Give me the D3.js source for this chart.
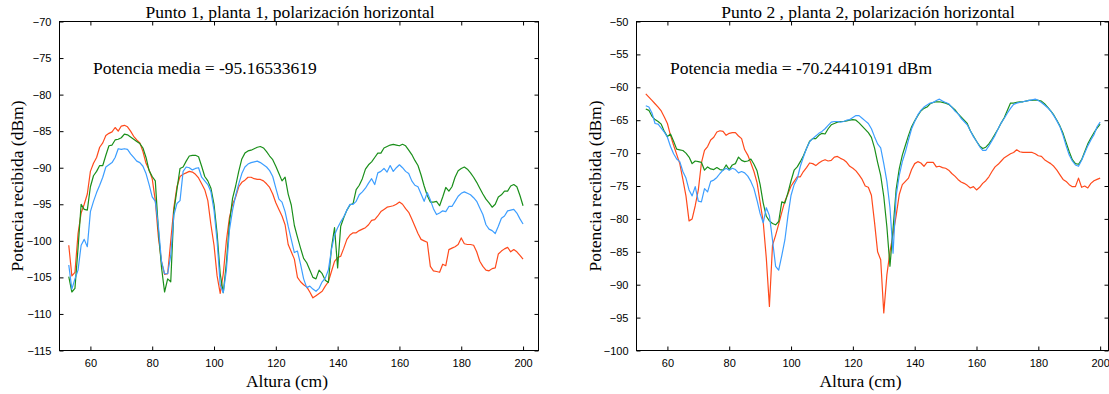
<!DOCTYPE html>
<html>
<head>
<meta charset="utf-8">
<script src="https://cdn.jsdelivr.net/npm/d3@7"></script>
<style>
  body { margin: 0; background: #fff; }
  svg { display: block; }
  .tick text { font-family: "Liberation Sans", Arial, sans-serif; font-size: 11px; fill: #000; }
  .serif { font-family: "Liberation Serif", "Times New Roman", serif; font-size: 17.5px; fill: #000; }
</style>
</head>
<body>
<svg id="chart" width="1109" height="394"></svg>
<script>
// alturas de medida (cm)
var alturas = d3.range(53, 201);

// Punto 1, planta 1
var rojo1 = [-100.6,-104.8,-104.3,-99,-96.2,-95,-93.6,-90.5,-89.4,-88.6,-87.2,-86.6,-85.6,-85.3,-85.1,-84.5,-85,-84.3,-84.2,-84.4,
  -85,-85.7,-86.2,-86.6,-87.8,-89.4,-90.3,-91.5,-94.5,-99.5,-102.8,-104.6,-104.5,-100,-95.5,-92.6,-91.2,-90.9,-90.7,-90.5,
  -90.6,-90.9,-91.4,-92.2,-93,-94.5,-97.8,-100.6,-104.8,-107.2,-104.5,-100,-96.8,-95,-94,-92.6,-92,-91.7,-91.3,-91.3,
  -91.5,-91.6,-91.6,-91.8,-92.2,-92.7,-93.6,-94.8,-95.7,-96.6,-97.8,-100.5,-101.5,-102.5,-105,-105.6,-106,-106.3,-107,-107.8,
  -107.5,-107.2,-106.9,-106.2,-105.6,-104.2,-102.8,-102.3,-102.1,-101,-99.8,-99.2,-98.9,-98.9,-98.6,-98.4,-98.2,-97.8,-97.2,-97.1,
  -96.6,-96,-95.7,-95.4,-95.3,-95.2,-95,-94.7,-95,-95.6,-96.1,-97,-98,-99,-99.8,-100,-100.2,-103.5,-104.1,-104.2,
  -104.3,-103.2,-103.4,-101.2,-101,-100.8,-100.5,-99.6,-100.4,-100.5,-100.5,-100.6,-101.5,-102.8,-103.5,-104,-104.1,-103.8,-103.7,-101.8,
  -101.4,-101.1,-100.9,-101.5,-101.2,-101.5,-102,-102.5];
var verde1 = [-104.9,-107,-106.5,-101,-95,-95.7,-95.8,-92.6,-91.1,-90.5,-89.7,-89.7,-88.3,-87,-86.9,-86.2,-86.1,-85.9,-85.4,-85.5,
  -85.8,-86.1,-86.4,-86.7,-87.3,-88.6,-90.4,-91.2,-91.8,-98.5,-103.6,-107,-105.2,-105.6,-96,-93,-90.1,-89.9,-89.1,-88.4,
  -88.3,-88.3,-88.5,-89.8,-91.2,-91.8,-92.8,-95,-99,-104.5,-107.1,-103,-97.5,-94.2,-92.5,-90.5,-88.8,-88,-87.7,-87.6,
  -87.4,-87.2,-87.1,-87.3,-87.8,-88.4,-88.9,-89.8,-90.8,-91.8,-91.3,-93.6,-95.1,-97.9,-99.5,-101,-102.4,-103,-104,-105,
  -105.2,-104,-104.5,-105.4,-105.7,-101,-98.2,-103.7,-98,-96.8,-95.8,-95.1,-94.9,-93,-92.4,-91.5,-90.2,-89.6,-89.2,-88.6,
  -88,-88,-87.3,-87.1,-86.9,-86.8,-86.9,-87,-86.8,-87,-87.6,-88.2,-89,-89.7,-91,-92.5,-93.8,-94.7,-94.7,-94.6,
  -95.2,-94,-92.7,-93.2,-92.6,-91.3,-90.4,-90.1,-89.9,-90.2,-90.7,-91.3,-92,-92.8,-93.6,-94.3,-94.8,-95.4,-95,-94,
  -93.7,-93.2,-93.2,-92.5,-92.3,-92.6,-93.8,-95.2];
var azul1 = [-103.3,-106.6,-105.2,-104,-100.6,-99.8,-100.8,-96,-94.6,-93.4,-92.4,-91.3,-89.9,-89.6,-89.3,-88.6,-87.4,-87.5,-87.4,-87.5,
  -88.1,-88.6,-89.1,-89.3,-89.8,-90.8,-92.3,-94,-94.6,-98,-102.8,-104.5,-104.5,-102,-96.5,-94.9,-94.5,-90.5,-89.9,-90,
  -90.3,-90.1,-90,-91.3,-91.8,-92.3,-93.3,-95.8,-100,-106,-107.1,-104,-98.5,-95.8,-93.8,-92.2,-90.8,-89.9,-89.5,-89.3,
  -89.2,-89.1,-89.3,-89.6,-89.9,-90.4,-91.2,-92.8,-94.3,-94.7,-96,-98,-99.8,-101.6,-101.4,-103.2,-105.2,-106.4,-106.2,-106.6,
  -106.9,-106.5,-105.6,-105.1,-104,-101.2,-99.2,-98.2,-97.4,-96.7,-95.8,-95,-95,-94.6,-93.7,-93.3,-92.8,-92.1,-91.5,-92.3,
  -90.7,-90.5,-90.1,-90.6,-89.7,-90.5,-90,-89.6,-90,-90.5,-90.8,-91.8,-92.4,-92.6,-93.6,-94.6,-93.4,-94.4,-95.6,-96.4,
  -96.2,-95.9,-96,-95.3,-95.3,-94.6,-93.9,-93.5,-93.3,-93.5,-93.7,-94.1,-94.6,-95.5,-96.4,-97.8,-98.4,-98.6,-99,-98,
  -96.9,-96.6,-95.9,-95.8,-95.7,-96.2,-97,-97.7];

// Punto 2, planta 2
var rojo2 = [-61,-61.5,-62,-62.5,-63,-63.6,-64.5,-65.5,-67.3,-68.8,-70.2,-71.6,-74,-76.5,-80.3,-80,-78,-75.6,-71.5,-69.6,
  -69,-68,-67.6,-66.8,-66.6,-66.7,-67.3,-67,-66.9,-66.9,-67.4,-67.8,-69.5,-70.3,-71.5,-72.8,-74.5,-77.5,-80.5,-86,
  -93.3,-84,-82.5,-80.8,-79,-77.3,-76.2,-75,-74.3,-73.6,-73.6,-72.8,-72.2,-71.5,-71.6,-71.9,-71.5,-71.2,-71,-71.2,
  -71.1,-70.6,-70.5,-70.8,-71,-71.4,-72,-72.3,-72.7,-73.3,-74,-75,-75.2,-76.4,-80.5,-85,-86.2,-94.3,-88.5,-85,
  -82.3,-79.5,-76.3,-74.8,-74.3,-73.8,-72.5,-71.6,-71.3,-71.5,-72,-71.4,-71.4,-71.4,-72.1,-72,-72.2,-72.3,-72.6,-73.1,
  -73.5,-74,-74.4,-74.6,-74.9,-75.3,-75.1,-75.6,-75.2,-74.6,-74.2,-73.6,-72.8,-72.1,-71.7,-71.2,-70.7,-70.4,-70.1,-69.9,
  -69.5,-69.8,-69.9,-69.9,-69.9,-69.9,-70.1,-70.4,-70.5,-71,-71.3,-71.6,-72,-72.6,-73.3,-74,-74.3,-74.8,-75.1,-75.1,
  -73.8,-75.2,-75,-75.3,-74.6,-74.2,-74,-73.8];
var verde2 = [-63.3,-63.5,-64.4,-64.9,-65.2,-65.6,-66.7,-67.5,-67.1,-68.2,-69.4,-69.5,-69.6,-70,-70.6,-71.6,-71.2,-71.3,-71.4,-72.6,
  -72.1,-72.4,-72.5,-72.2,-72.5,-72.6,-71.8,-72.5,-71.8,-71.6,-70.6,-71.1,-71.3,-71.2,-70.9,-71.7,-72.7,-74.8,-77.6,-79.6,
  -80.3,-80.7,-80.9,-80.4,-77.4,-77.6,-76,-74.2,-72.6,-72.1,-71.3,-70.4,-69.3,-68.2,-67.8,-67.8,-67.3,-67,-67.1,-66.3,
  -65.7,-65.5,-65.3,-65.2,-65.2,-65.1,-65,-64.9,-65,-65.4,-65.9,-66.4,-66.9,-67.6,-69.2,-71.4,-73.4,-76.6,-81.2,-87.2,
  -81.5,-75.5,-72.4,-70.3,-68.8,-67.3,-66,-65.1,-64.3,-63.6,-63.2,-63,-62.5,-62.3,-62.2,-62.2,-62.3,-62.4,-62.6,-63,
  -63.4,-64,-64.5,-65,-65.5,-66.6,-67.4,-68.2,-68.9,-69.3,-69.1,-68.6,-67.9,-67.1,-66.3,-65.4,-64.6,-63.5,-62.4,-62.4,
  -62.3,-62.2,-62.2,-62.1,-62,-62,-61.9,-62,-62.1,-62.5,-63,-63.6,-64.2,-65,-65.9,-67,-68.4,-69.8,-71,-71.6,
  -71.7,-71,-69.8,-68.6,-67.7,-66.9,-66.2,-65.6];
var azul2 = [-62.8,-63,-63.9,-65.5,-65.6,-66.2,-66.8,-67.6,-69,-70.1,-70.9,-71.3,-72.8,-73.8,-75.6,-76.5,-75.1,-77.3,-77.4,-75.4,
  -75.9,-74.3,-74.1,-73.7,-73.1,-72.6,-72.3,-72.6,-72.3,-72.5,-73,-72.8,-73,-73.5,-74.3,-75.4,-77.2,-79.2,-80.6,-78.3,
  -79.5,-83.2,-87.2,-87.8,-85.6,-83.2,-79.5,-76.4,-74.8,-73.9,-72,-70.6,-69.3,-68.3,-67.8,-67.4,-67,-66.7,-66.3,-65.8,
  -65.3,-65.2,-65.2,-65.3,-65.2,-65,-64.9,-64.6,-64.3,-64.3,-64.7,-65.1,-65.5,-66.3,-67.5,-68.6,-69.2,-71.6,-74.3,-78.3,
  -85.2,-76.5,-73.4,-71.3,-69.8,-68,-66.3,-65.2,-64.2,-63.5,-63,-62.7,-62.4,-62.3,-62,-61.8,-62.1,-62.3,-62.5,-63,
  -63.6,-64,-64.7,-65.2,-65.7,-66.6,-67.5,-68.2,-69,-69.6,-69.6,-68.9,-68.1,-67.3,-66.3,-65.4,-64.7,-63.9,-63.2,-62.6,
  -62.4,-62.3,-62.2,-62.1,-62,-61.9,-61.8,-62,-62.3,-62.7,-63.1,-63.6,-64.3,-65.1,-66,-67.3,-68.9,-70.3,-71.2,-71.8,
  -72,-71.1,-70,-68.9,-68,-67.2,-66,-65.3];

var xTicks = [60, 80, 100, 120, 140, 160, 180, 200];
var colores = { rojo: "#ff4a1c", verde: "#1a8f1a", azul: "#3d9eff" };

var svg = d3.select("#chart");

function drawPanel(opts) {
    var x = d3.scaleLinear().domain(opts.xDomain).range(opts.xRange);
    var y = d3.scaleLinear().domain(opts.yDomain).range([350.5, 21.5]);
    var g = svg.append("g");
    var yTicks = d3.range(opts.yDomain[0], opts.yDomain[1] + 1, 5);

    // axes with inward ticks on all sides
    g.append("g").attr("transform", "translate(0,350.5)")
        .call(d3.axisBottom(x).tickValues(xTicks).tickSizeInner(-4).tickSizeOuter(0).tickPadding(9))
        .call(a => a.select(".domain").remove());
    g.append("g").attr("transform", "translate(0,21.5)")
        .call(d3.axisTop(x).tickValues(xTicks).tickSizeInner(-4).tickSizeOuter(0).tickFormat(""))
        .call(a => a.select(".domain").remove());
    g.append("g").attr("transform", "translate(" + opts.xRange[0] + ",0)")
        .call(d3.axisLeft(y).tickValues(yTicks).tickSizeInner(-4).tickSizeOuter(0).tickPadding(8))
        .call(a => a.select(".domain").remove());
    g.append("g").attr("transform", "translate(" + opts.xRange[1] + ",0)")
        .call(d3.axisRight(y).tickValues(yTicks).tickSizeInner(-4).tickSizeOuter(0).tickFormat(""))
        .call(a => a.select(".domain").remove());
    g.selectAll(".tick line").attr("stroke", "#000");

    var clipId = "clip" + opts.id;
    svg.append("clipPath").attr("id", clipId).append("rect")
        .attr("x", opts.xRange[0]).attr("y", 21.5)
        .attr("width", opts.xRange[1] - opts.xRange[0]).attr("height", 329);

    var line = d3.line().x((d, i) => x(alturas[i])).y(d => y(d));
    opts.series.forEach(function(s) {
        g.append("path")
            .datum(s.values)
            .attr("clip-path", "url(#" + clipId + ")")
            .attr("fill", "none")
            .attr("stroke", s.color)
            .attr("stroke-width", 1.2)
            .attr("stroke-linejoin", "round")
            .attr("d", line);
    });

    g.append("rect")
        .attr("x", opts.xRange[0]).attr("y", 21.5)
        .attr("width", opts.xRange[1] - opts.xRange[0]).attr("height", 329)
        .attr("fill", "none").attr("stroke", "#000").attr("stroke-width", 1);

    g.append("text").attr("class", "serif")
        .attr("x", opts.titleX).attr("y", 18)
        .attr("text-anchor", "middle")
        .text(opts.title);
    g.append("text").attr("class", "serif")
        .attr("x", opts.noteX).attr("y", 74)
        .text(opts.note);
    g.append("text").attr("class", "serif")
        .attr("x", (opts.xRange[0] + opts.xRange[1]) / 2 - 12).attr("y", 387)
        .attr("text-anchor", "middle")
        .text("Altura (cm)");
    g.append("text").attr("class", "serif")
        .attr("transform", "translate(" + opts.yLabelX + ",186) rotate(-90)")
        .attr("text-anchor", "middle")
        .text("Potencia recibida (dBm)");
}

drawPanel({
    id: 1,
    xDomain: [50, 205], xRange: [59.5, 538.5], yDomain: [-115, -70],
    title: "Punto 1, planta 1, polarización horizontal", titleX: 290,
    note: "Potencia media = -95.16533619", noteX: 93,
    yLabelX: 23,
    series: [
        { values: rojo1, color: colores.rojo },
        { values: verde1, color: colores.verde },
        { values: azul1, color: colores.azul }
    ]
});

drawPanel({
    id: 2,
    xDomain: [50, 202.7], xRange: [636.5, 1108.5], yDomain: [-100, -50],
    title: "Punto 2 , planta 2, polarización horizontal", titleX: 868,
    note: "Potencia media = -70.24410191 dBm", noteX: 670,
    yLabelX: 601,
    series: [
        { values: rojo2, color: colores.rojo },
        { values: verde2, color: colores.verde },
        { values: azul2, color: colores.azul }
    ]
});
</script>
</body>
</html>
